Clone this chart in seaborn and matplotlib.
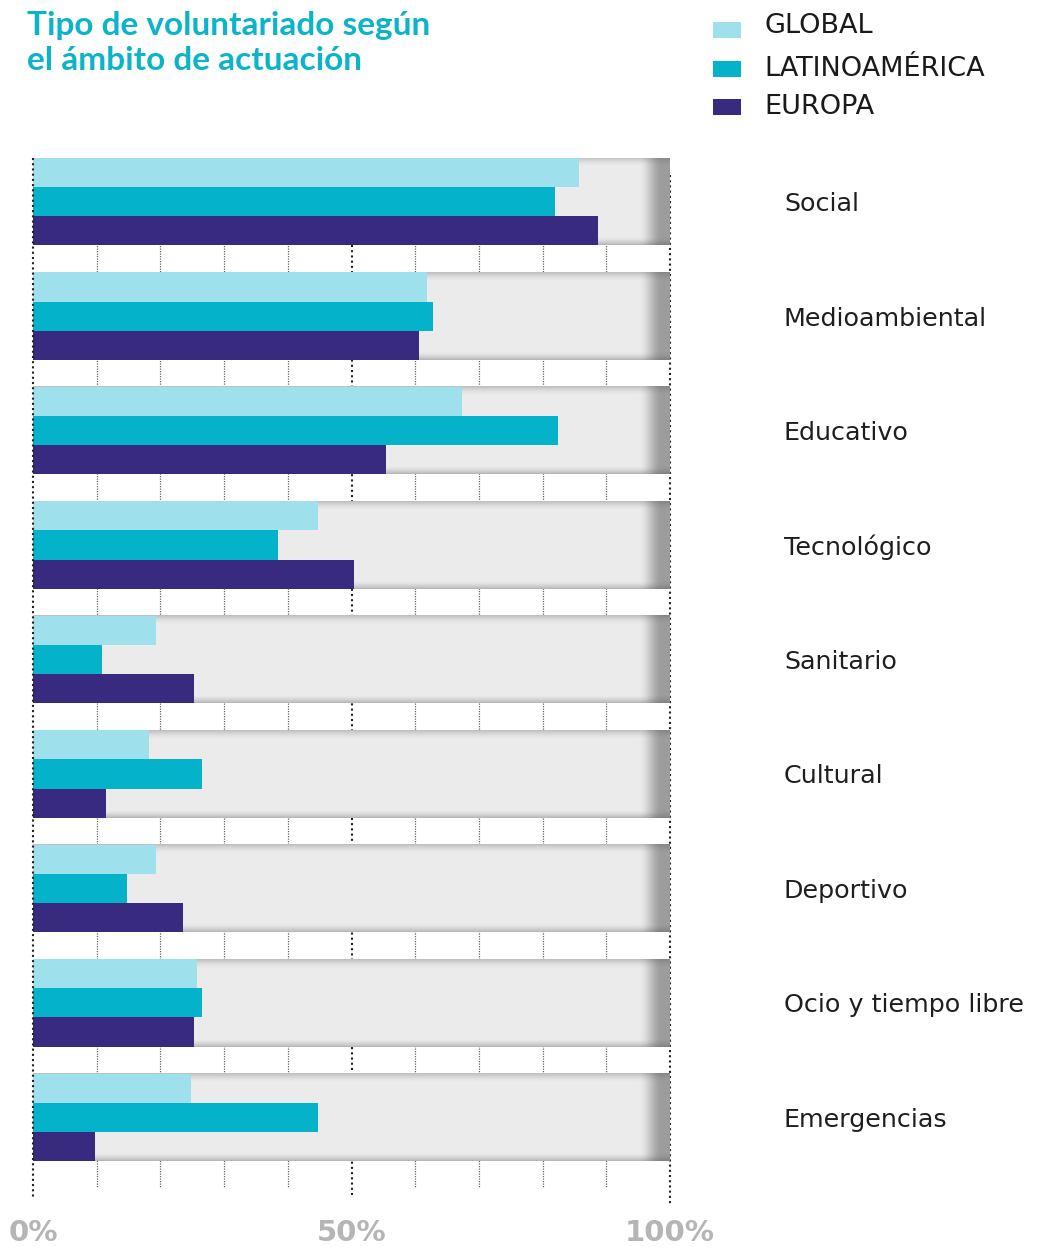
import numpy as np
import pandas as pd
import matplotlib
matplotlib.use("Agg")
import matplotlib.pyplot as plt
import seaborn as sns
from matplotlib.patches import Rectangle

categories = ["Social", "Medioambiental", "Educativo", "Tecnológico", "Sanitario",
              "Cultural", "Deportivo", "Ocio y tiempo libre", "Emergencias"]
series = ["GLOBAL", "LATINOAMÉRICA", "EUROPA"]
global_vals = [85.7, 61.9, 67.3, 44.7, 19.3, 18.2, 19.3, 25.7, 24.8]
latam_vals = [82.0, 62.8, 82.4, 38.5, 10.8, 26.5, 14.8, 26.5, 44.7]
europa_vals = [88.7, 60.6, 55.4, 50.4, 25.3, 11.5, 23.5, 25.3, 9.7]
x_ticks = [0, 50, 100]
x_tick_labels = ["0%", "50%", "100%"]
title_lines = ["Tipo de voluntariado según", "el ámbito de actuación"]

colors = ["#9ee0eb", "#04b3ca", "#382a7f"]
title_color = "#0bb4c9"

sns.set_theme(style="white")
plt.rcParams["font.family"] = ["DejaVu Sans"]

df = pd.DataFrame({
    "ambito": categories * 3,
    "serie": [series[0]] * 9 + [series[1]] * 9 + [series[2]] * 9,
    "valor": global_vals + latam_vals + europa_vals,
})

W, H = 1051, 1247
fig = plt.figure(figsize=(W / 100, H / 100), dpi=100)
ax_left, ax_right = 33, 670
ax_top, ax_bottom = 158, 1161
ax = fig.add_axes([ax_left / W, 1 - ax_bottom / H, (ax_right - ax_left) / W, (ax_bottom - ax_top) / H])

band_h = 0.76

# grey background band with a soft inner shadow, darker toward the right end
nx, ny = 800, 90
xs = np.linspace(0, 1, nx)
ys = np.linspace(0, 1, ny)
t = np.clip((xs - 0.952) / 0.036, 0, 1)
t = t * t * (3 - 2 * t)
shade_x = 0.922 - 0.31 * t
top_sh = np.clip(1 - ys / 0.10, 0, 1) ** 1.6 * 0.17
bot_sh = np.clip(1 - (1 - ys) / 0.09, 0, 1) ** 1.6 * 0.20
img = shade_x[None, :] - np.maximum(top_sh[:, None], bot_sh[:, None]) * (0.5 + 0.5 * (1 - t[None, :]))
img = np.clip(img, 0, 1)
rgb = np.dstack([img, img, img])
for i in range(len(categories)):
    ax.imshow(rgb, extent=(0, 100, i + band_h / 2, i - band_h / 2), aspect="auto",
              zorder=0, interpolation="bilinear")

# dotted guide lines, visible in the gaps between bands
y_lo = -band_h / 2
for v in range(10, 100, 10):
    if v == 50:
        continue
    ax.vlines(v, y_lo, 8.61, colors="#666666", linestyles=(0, (1, 1)), linewidth=0.9,
              zorder=-1, clip_on=False)
ax.vlines(0, y_lo, 8.70, colors="#222222", linestyles=(0, (1, 1.5)), linewidth=1.5,
          zorder=3, clip_on=False)
ax.vlines(50, y_lo + band_h, 8.70, colors="#222222", linestyles=(0, (1, 1.5)), linewidth=1.5,
          zorder=-1, clip_on=False)
ax.vlines(100, y_lo + 0.15, 8.77, colors="#222222", linestyles=(0, (1, 1.5)), linewidth=1.5,
          zorder=-1, clip_on=False)

sns.barplot(data=df, y="ambito", x="valor", hue="serie", order=categories,
            hue_order=series, palette=colors, orient="h", width=band_h, gap=0,
            saturation=1, linewidth=0, ax=ax, legend=False, zorder=2)

ax.set_xlim(0, 100)
ax.set_ylim(len(categories) - 1 + band_h / 2, -band_h / 2)
for s in ax.spines.values():
    s.set_visible(False)
ax.set_xlabel("")
ax.set_ylabel("")
ax.set_facecolor("none")

ax.set_xticks(x_ticks)
ax.set_xticklabels(x_tick_labels, fontsize=21, fontweight="bold", color="#b5b5b5")
ax.tick_params(axis="x", length=0, pad=42)

ax.yaxis.tick_right()
ax.tick_params(axis="y", length=0, pad=82, labelsize=18.3, labelcolor="#1e1e1e")
for lbl in ax.get_yticklabels():
    lbl.set_horizontalalignment("left")

# title, two lines placed on their baselines
for line, base in zip(title_lines, [35, 70]):
    fig.text(27 / W, 1 - base / H, line, ha="left", va="baseline", fontsize=24,
             fontweight="bold", color=title_color, family=["Lato", "DejaVu Sans"])

# legend: swatches and labels
sw_x0, sw_x1 = 713, 741
for name, col, (sy0, sy1), base in zip(series, colors,
                                       [(22, 38), (61, 77), (99, 115)], [33, 76, 114]):
    fig.add_artist(Rectangle((sw_x0 / W, 1 - sy1 / H), (sw_x1 - sw_x0) / W, (sy1 - sy0) / H,
                             transform=fig.transFigure, facecolor=col, edgecolor="none"))
    fig.text(764 / W, 1 - base / H, name, ha="left", va="baseline", fontsize=19.5,
             color="#1a1a1a")

fig.savefig("out.png", dpi=100, facecolor="white")
